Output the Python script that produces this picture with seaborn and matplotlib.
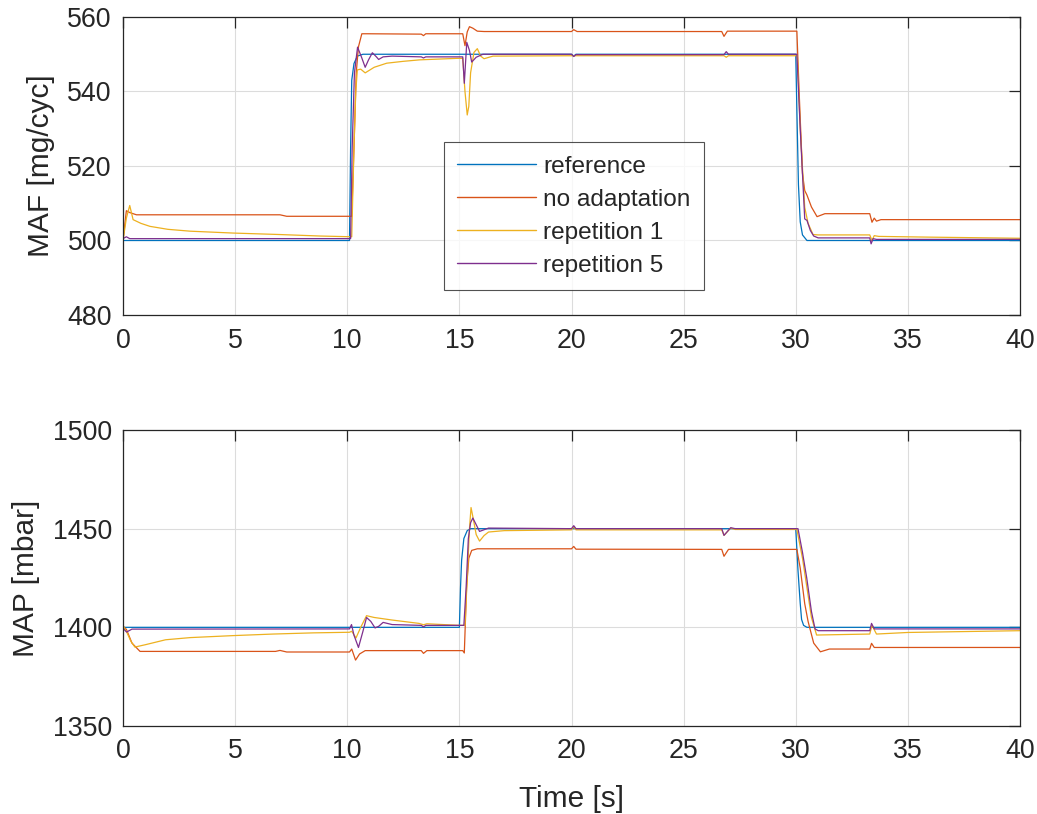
import matplotlib
matplotlib.use("Agg")
import matplotlib.pyplot as plt
import seaborn as sns
import pandas as pd

# ---------------- data ----------------
series_names = ["reference", "no adaptation", "repetition 1", "repetition 5"]
series_colors = ["#0072BD", "#D95319", "#EDB120", "#7E2F8E"]
x_ticks = [0, 5, 10, 15, 20, 25, 30, 35, 40]
maf_ticks = [480, 500, 520, 540, 560]
map_ticks = [1350, 1400, 1450, 1500]

# MAF [mg/cyc]
t_ref_maf = [0, 10.1, 10.15, 10.2, 10.3, 10.45, 10.7, 20.0, 20.1, 20.2, 30.0, 30.05, 30.12, 30.2, 30.3, 30.5, 40]
ref_maf = [500, 500, 525, 543, 547.5, 549.5, 550, 550, 549.5, 550, 550, 535, 515, 505, 501.5, 500, 500]

t_noad_maf = [0, 0.15, 0.3, 0.6, 7.0, 7.3, 10.2, 10.3, 10.4, 10.5, 10.65, 10.9, 13.3, 13.4, 13.5, 15.15, 15.25,
              15.35, 15.45, 15.6, 15.8, 16.1, 20.0, 20.1, 20.25, 26.7, 26.8, 26.95, 30.05, 30.15, 30.3, 30.4, 30.5,
              30.7, 30.95, 31.3, 33.3, 33.4, 33.5, 33.6, 33.8, 40]
noad_maf = [500, 508, 507.5, 506.9, 506.9, 506.5, 506.5, 525, 545, 552, 555.5, 555.5, 555.4, 555.0, 555.5, 555.5, 552.3,
            556, 557.4, 557, 556.2, 556.1, 556.1, 556.6, 556.1, 556.1, 554.8, 556.2, 556.2, 540, 518, 513.4, 512.2,
            509, 506.4, 507.2, 507.2, 504.9, 506.0, 505.2, 505.6, 505.6]

t_rep1_maf = [0, 0.15, 0.3, 0.45, 0.8, 1.2, 2.0, 3.0, 4.9, 7.0, 8.8, 10.2, 10.3, 10.38, 10.45, 10.6, 10.8, 11.2,
              11.76, 12.5, 13.24, 14.9, 15.15, 15.25, 15.35, 15.42, 15.5, 15.65, 15.8, 15.95, 16.1, 16.5, 20.0,
              26.8, 26.9, 27.0, 30.07, 30.2, 30.4, 30.55, 30.77, 31.0, 33.3, 33.4, 33.5, 33.7, 36, 40]
rep1_maf = [500, 506, 509.4, 505.6, 504.6, 503.8, 503.0, 502.5, 502.0, 501.6, 501.2, 501.0, 525, 540, 545.8, 546,
            545.0, 546.5, 547.6, 548.1, 548.5, 548.9, 548.9, 540, 533.7, 536, 545, 550.5, 551.5, 549.5, 548.8,
            549.5, 549.6, 549.6, 549.2, 549.6, 549.6, 530, 508.9, 504.6, 501.6, 501.5, 501.5, 500.0, 501.3,
            501.1, 500.9, 500.6]

t_rep5_maf = [0, 0.15, 0.3, 0.5, 10.15, 10.22, 10.32, 10.46, 10.65, 10.8, 10.95, 11.12, 11.3, 11.4, 11.6, 12.0,
              13.3, 13.4, 13.5, 15.15, 15.22, 15.33, 15.45, 15.55, 15.75, 16.05, 20.0, 20.1, 20.2, 26.8, 26.9,
              27.0, 30.05, 30.2, 30.4, 30.5, 30.65, 30.8, 31.0, 33.3, 33.36, 33.45, 33.6, 40]
rep5_maf = [500.5, 501, 500.5, 500.5, 500.5, 525, 545, 551.9, 549, 546.5, 548.5, 550.4, 549.3, 548.6, 549.3, 549.5,
            549.3, 549.0, 549.3, 549.3, 542.2, 553.2, 551, 547.9, 549.2, 550, 550, 549.4, 549.9, 549.9, 550.7,
            550, 550, 530, 505.8, 505.4, 502.7, 501.2, 500.7, 500.7, 499.1, 500.5, 500.3, 500.3]

# MAP [mbar]
t_ref_map = [0, 15.0, 15.05, 15.1, 15.2, 15.35, 15.5, 30.0, 30.1, 30.2, 30.26, 30.35, 30.5, 40]
ref_map = [1400, 1400, 1420, 1434, 1445, 1449, 1450, 1450, 1428.8, 1412, 1404, 1401, 1400, 1400]

t_noad_map = [0, 0.15, 0.4, 0.76, 6.8, 7.0, 7.3, 10.1, 10.2, 10.37, 10.55, 10.8, 13.3, 13.4, 13.55, 15.15, 15.22,
              15.32, 15.42, 15.55, 15.8, 20.0, 20.1, 20.2, 26.7, 26.8, 27.0, 30.05, 30.2, 30.4, 30.55, 30.8, 31.1,
              31.5, 33.3, 33.38, 33.5, 40]
noad_map = [1400.5, 1399, 1392, 1387.8, 1387.8, 1388.3, 1387.5, 1387.5, 1389, 1383.4, 1386.5, 1388.2, 1388.2,
            1386.8, 1388.2, 1388.2, 1387, 1420, 1435, 1439, 1439.8, 1439.8, 1441, 1439.6, 1439.5, 1436, 1439.5,
            1439.5, 1430, 1412, 1403, 1392, 1387.6, 1389, 1389, 1391.9, 1389.8, 1389.8]

t_rep1_map = [0, 0.15, 0.35, 0.53, 1.0, 1.9, 3.0, 4.9, 6.7, 8.5, 10.1, 10.2, 10.39, 10.6, 10.86, 11.2, 12.0, 13.2,
              13.4, 13.55, 15.0, 15.25, 15.35, 15.45, 15.52, 15.62, 15.75, 15.9, 16.1, 16.3, 17.0, 20.0, 20.1,
              20.2, 26.7, 26.8, 27.1, 27.3, 30.05, 30.3, 30.5, 30.7, 30.93, 33.3, 33.4, 33.6, 35, 40]
rep1_map = [1401, 1398, 1393, 1390, 1391.2, 1393.7, 1394.8, 1395.8, 1396.6, 1397.2, 1397.5, 1398, 1394.6, 1400,
            1405.9, 1405, 1403.7, 1402, 1401.3, 1401.8, 1401, 1401, 1425, 1450, 1460.7, 1455, 1447, 1443.7,
            1446.5, 1448.3, 1449, 1449.4, 1451, 1449.4, 1449.4, 1446.6, 1450.3, 1449.6, 1449.6, 1435, 1420, 1405,
            1396.1, 1396.6, 1401, 1396.6, 1397.4, 1398.3]

t_rep5_map = [0, 0.16, 0.4, 10.1, 10.19, 10.3, 10.5, 10.7, 10.86, 11.05, 11.24, 11.4, 11.6, 12.0, 13.3, 13.4,
              13.5, 15.2, 15.3, 15.4, 15.5, 15.6, 15.75, 15.9, 16.3, 20.0, 20.1, 20.2, 26.7, 26.8, 27.1, 27.3,
              30.1, 30.3, 30.49, 30.7, 30.86, 31.0, 33.3, 33.38, 33.5, 40]
rep5_map = [1399.5, 1397.6, 1399.1, 1399.2, 1401.4, 1396, 1389.8, 1398, 1405, 1403, 1399.7, 1400.5, 1402.5,
            1401.4, 1401, 1400.2, 1401, 1401, 1420, 1445, 1453, 1455.4, 1452, 1448.6, 1450.3, 1450, 1451.5, 1450,
            1450, 1446.6, 1450.5, 1450, 1450, 1438, 1425, 1408, 1399.2, 1398.3, 1398.3, 1402, 1399.2, 1399.2]

maf_series = [(t_ref_maf, ref_maf), (t_noad_maf, noad_maf), (t_rep1_maf, rep1_maf), (t_rep5_maf, rep5_maf)]
map_series = [(t_ref_map, ref_map), (t_noad_map, noad_map), (t_rep1_map, rep1_map), (t_rep5_map, rep5_map)]

# ---------------- style ----------------
sns.set_theme(style="white")
plt.rcParams["font.family"] = ["Liberation Sans", "DejaVu Sans"]
plt.rcParams["axes.edgecolor"] = "#262626"
plt.rcParams["xtick.color"] = "#262626"
plt.rcParams["ytick.color"] = "#262626"
plt.rcParams["text.color"] = "#262626"
plt.rcParams["axes.labelcolor"] = "#262626"

fig = plt.figure(figsize=(10.37, 8.14), dpi=100)
ax1 = fig.add_axes([123 / 1037, 1 - 315 / 814, 897 / 1037, 298 / 814])
ax2 = fig.add_axes([123 / 1037, 1 - 726 / 814, 897 / 1037, 296 / 814])

def build(ax, series, with_label):
    for (t, v), name, col in zip(series, series_names, series_colors):
        df = pd.DataFrame({"t": t, "v": v})
        sns.lineplot(data=df, x="t", y="v", ax=ax, color=col, linewidth=0.9,
                     label=name if with_label else None, estimator=None, sort=False)

build(ax1, maf_series, True)
build(ax2, map_series, False)

for ax, yt, ylab in [(ax1, maf_ticks, "MAF [mg/cyc]"), (ax2, map_ticks, "MAP [mbar]")]:
    ax.set_xlim(0, 40)
    ax.set_ylim(yt[0], yt[-1])
    ax.set_xticks(x_ticks)
    ax.set_yticks(yt)
    ax.grid(True, color="#dcdcdc", linewidth=0.8)
    ax.tick_params(direction="in", length=8, width=0.9, top=True, right=True,
                   labelsize=19.3)
    ax.tick_params(axis="y", pad=8)
    ax.tick_params(axis="x", pad=9)
    for s in ax.spines.values():
        s.set_linewidth(0.9)
        s.set_color("#262626")
    ax.set_ylabel(ylab, fontsize=21.5, labelpad=9)
    ax.set_xlabel("")

ax2.set_xlabel("Time [s]", fontsize=21.5, labelpad=15)

leg = ax1.legend(loc="upper left", bbox_to_anchor=((444 - 123) / 897, (315 - 142) / 298),
                 fontsize=17.6, frameon=True, fancybox=False, handlelength=3.2,
                 handletextpad=0.3, labelspacing=0.45, borderpad=0.55, borderaxespad=0)
leg.get_frame().set_edgecolor("#262626")
leg.get_frame().set_linewidth(0.8)
for h in leg.get_lines():
    h.set_linewidth(1.0)

fig.savefig("out.png", dpi=100)
